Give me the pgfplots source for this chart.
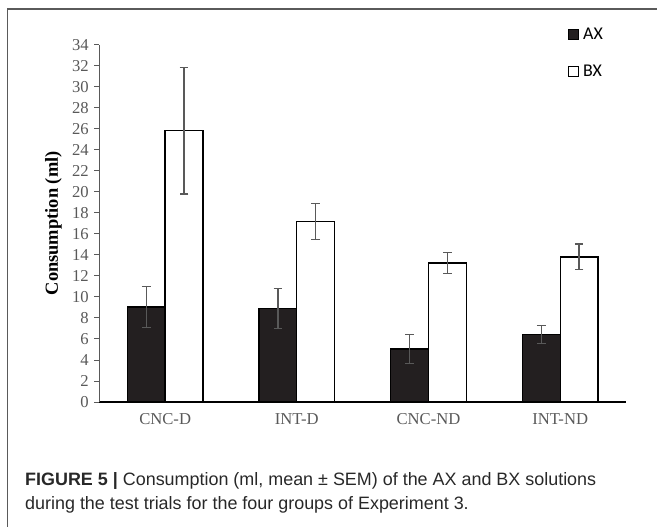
\documentclass[border=0pt]{standalone}
\usepackage{pgfplots}
\pgfplotsset{compat=1.18}
\usepackage{pgfplotstable}
\usepackage{fontspec}
\setmainfont{Liberation Serif}
\newfontfamily\calibri{Carlito}
\newfontfamily\helv{Liberation Sans}
\definecolor{tickgray}{RGB}{89,89,89}
\definecolor{barblack}{RGB}{35,31,32}
\definecolor{errgray}{RGB}{89,89,89}
\definecolor{framegray}{RGB}{90,90,90}
\definecolor{captext}{RGB}{40,40,40}

\pgfplotstableread{
x ax axe bx bxe
0 9.05 1.93 25.8 6.0
1 8.9 1.88 17.15 1.72
2 5.05 1.36 13.22 1.02
3 6.43 0.88 13.8 1.22
}\data

\begin{document}
\begin{tikzpicture}[x=1bp,y=1bp]
\begin{axis}[
  name=ax,
  scale only axis, width=526.7bp, height=357.4bp,
  xmin=-0.5, xmax=3.5, ymin=0, ymax=34,
  ybar=0pt, bar width=37.8bp,
  axis x line*=bottom, axis y line*=left,
  x axis line style={-, black, line width=1.5bp},
  y axis line style={-, tickgray, line width=1bp},
  xtick={0,1,2,3}, xticklabels={CNC-D,INT-D,CNC-ND,INT-ND},
  xtick style={draw=none},
  ytick={0,2,...,34},
  tick align=outside, major tick length=5bp,
  y tick style={tickgray, line width=0.9bp},
  /pgf/number format/assume math mode=true,
  yticklabel style={font=\fontsize{16.7}{16.7}\selectfont, text=tickgray, xshift=-2bp},
  xticklabel style={font=\fontsize{16.7}{16.7}\selectfont, text=tickgray, yshift=-3bp},
  ylabel={Consumption (ml)},
  every axis y label/.style={at={(axis description cs:-0.0873,0.5)}, rotate=90, anchor=center,
    font=\fontsize{18.5}{18.5}\selectfont\bfseries},
  clip=false,
  legend style={at={(0.8899,1.048)}, anchor=north west, draw=none, fill=none,
    font=\calibri\fontsize{18}{18}\selectfont, row sep=24bp, column sep=4bp, inner sep=0pt,
    nodes={inner sep=0pt}},
  legend cell align=left,
  legend image code/.code={\draw[#1, line width=1bp] (0bp,-5bp) rectangle (10bp,5bp);},
]
\addplot[fill=barblack, draw=black, line width=1.3bp,
  error bars/.cd, y dir=both, y explicit,
  error bar style={errgray, line width=1.3bp},
  error mark options={errgray, rotate=90, mark size=4.3bp, line width=1.3bp}]
  table[x=x, y=ax, y error=axe]{\data};
\addplot[fill=white, draw=black, line width=1.3bp,
  error bars/.cd, y dir=both, y explicit,
  error bar style={errgray, line width=1.3bp},
  error mark options={errgray, rotate=90, mark size=4.3bp, line width=1.3bp}]
  table[x=x, y=bx, y error=bxe]{\data};
\legend{AX,BX}
\coordinate (O) at (axis cs:-0.5,0);
\end{axis}
\pgfresetboundingbox
\begin{scope}[shift={(O)}]
\useasboundingbox (-99.3,-125) rectangle (557.7,402);
\draw[framegray, line width=1.2bp] (-91.8,-125) -- (-91.8,393) -- (557.7,393);
\node[anchor=base west, font=\helv\fontsize{18}{18}\selectfont, text=captext, inner sep=0pt]
  at (-74.3,-84) {\textbf{FIGURE 5 |} Consumption (ml, mean ± SEM) of the AX and BX solutions};
\node[anchor=base west, font=\helv\fontsize{18}{18}\selectfont, text=captext, inner sep=0pt]
  at (-74.3,-108) {during the test trials for the four groups of Experiment 3.};
\end{scope}
\end{tikzpicture}
\end{document}
